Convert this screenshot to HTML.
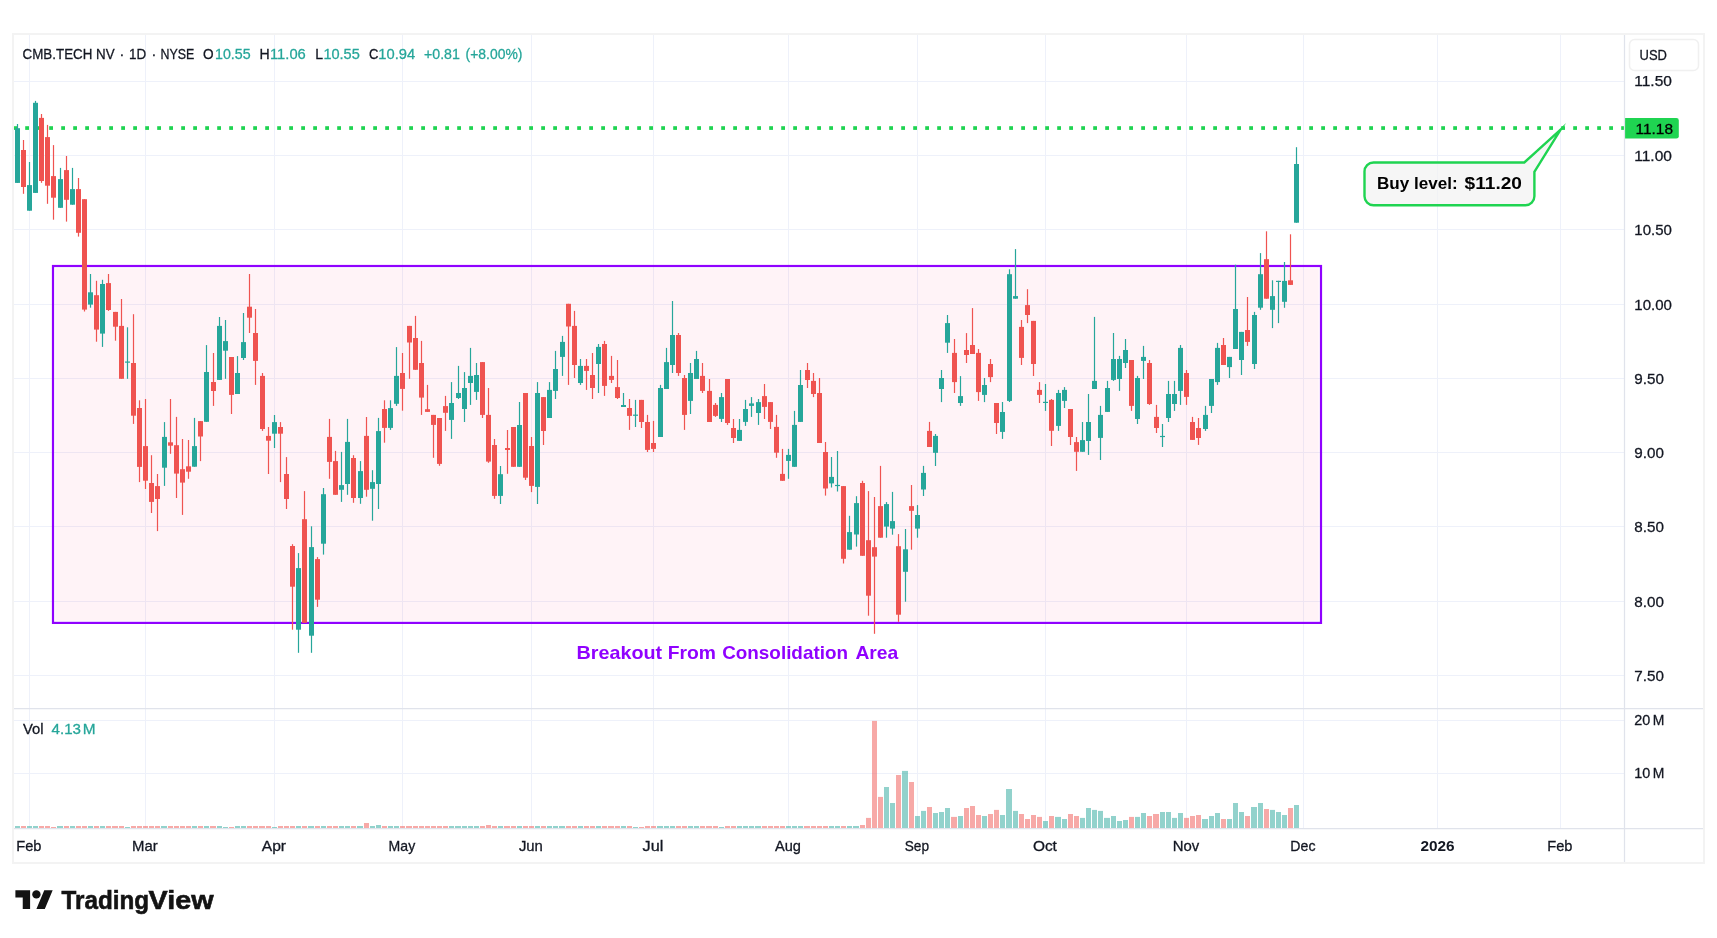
<!DOCTYPE html>
<html lang="en"><head><meta charset="utf-8"><title>CMB.TECH NV chart</title>
<style>html,body{margin:0;padding:0;background:#fff;}body{width:1717px;height:938px;overflow:hidden;}svg{display:block;}text{font-family:"Liberation Sans", Arial, Helvetica, sans-serif;}</style></head><body>
<svg width="1717" height="938" viewBox="0 0 1717 938">
<rect width="1717" height="938" fill="#fff"/>
<g opacity="0.999">
<g stroke="#eef1fa" stroke-width="1" shape-rendering="auto">
<line x1="14" x2="1624" y1="81.5" y2="81.5"/>
<line x1="14" x2="1624" y1="155.5" y2="155.5"/>
<line x1="14" x2="1624" y1="229.5" y2="229.5"/>
<line x1="14" x2="1624" y1="304.5" y2="304.5"/>
<line x1="14" x2="1624" y1="378.5" y2="378.5"/>
<line x1="14" x2="1624" y1="452.5" y2="452.5"/>
<line x1="14" x2="1624" y1="526.5" y2="526.5"/>
<line x1="14" x2="1624" y1="601.5" y2="601.5"/>
<line x1="14" x2="1624" y1="675.5" y2="675.5"/>
<line x1="14" x2="1624" y1="720.5" y2="720.5"/>
<line x1="14" x2="1624" y1="773.5" y2="773.5"/>
<line x1="29.5" x2="29.5" y1="35" y2="828"/>
<line x1="145.5" x2="145.5" y1="35" y2="828"/>
<line x1="274.5" x2="274.5" y1="35" y2="828"/>
<line x1="402.5" x2="402.5" y1="35" y2="828"/>
<line x1="531.5" x2="531.5" y1="35" y2="828"/>
<line x1="653.5" x2="653.5" y1="35" y2="828"/>
<line x1="788.5" x2="788.5" y1="35" y2="828"/>
<line x1="917.5" x2="917.5" y1="35" y2="828"/>
<line x1="1045.5" x2="1045.5" y1="35" y2="828"/>
<line x1="1186.5" x2="1186.5" y1="35" y2="828"/>
<line x1="1303.5" x2="1303.5" y1="35" y2="828"/>
<line x1="1437.5" x2="1437.5" y1="35" y2="828"/>
<line x1="1560.5" x2="1560.5" y1="35" y2="828"/>
</g>
<rect x="55.3" y="268.2" width="1263.4" height="352.5" fill="rgba(255,20,100,0.05)"/>
<rect x="53" y="266" width="1268.0" height="356.9" fill="none" stroke="#9000ff" stroke-width="2.2"/>
<g fill="#1fd451">
<rect x="13.2" y="126.2" width="3.8" height="3.7"/>
<rect x="25.2" y="126.2" width="3.8" height="3.7"/>
<rect x="37.2" y="126.2" width="3.8" height="3.7"/>
<rect x="49.2" y="126.2" width="3.8" height="3.7"/>
<rect x="61.2" y="126.2" width="3.8" height="3.7"/>
<rect x="73.2" y="126.2" width="3.8" height="3.7"/>
<rect x="85.2" y="126.2" width="3.8" height="3.7"/>
<rect x="97.2" y="126.2" width="3.8" height="3.7"/>
<rect x="109.2" y="126.2" width="3.8" height="3.7"/>
<rect x="121.2" y="126.2" width="3.8" height="3.7"/>
<rect x="133.2" y="126.2" width="3.8" height="3.7"/>
<rect x="145.2" y="126.2" width="3.8" height="3.7"/>
<rect x="157.2" y="126.2" width="3.8" height="3.7"/>
<rect x="169.2" y="126.2" width="3.8" height="3.7"/>
<rect x="181.2" y="126.2" width="3.8" height="3.7"/>
<rect x="193.2" y="126.2" width="3.8" height="3.7"/>
<rect x="205.2" y="126.2" width="3.8" height="3.7"/>
<rect x="217.2" y="126.2" width="3.8" height="3.7"/>
<rect x="229.2" y="126.2" width="3.8" height="3.7"/>
<rect x="241.2" y="126.2" width="3.8" height="3.7"/>
<rect x="253.2" y="126.2" width="3.8" height="3.7"/>
<rect x="265.2" y="126.2" width="3.8" height="3.7"/>
<rect x="277.2" y="126.2" width="3.8" height="3.7"/>
<rect x="289.2" y="126.2" width="3.8" height="3.7"/>
<rect x="301.2" y="126.2" width="3.8" height="3.7"/>
<rect x="313.2" y="126.2" width="3.8" height="3.7"/>
<rect x="325.2" y="126.2" width="3.8" height="3.7"/>
<rect x="337.2" y="126.2" width="3.8" height="3.7"/>
<rect x="349.2" y="126.2" width="3.8" height="3.7"/>
<rect x="361.2" y="126.2" width="3.8" height="3.7"/>
<rect x="373.2" y="126.2" width="3.8" height="3.7"/>
<rect x="385.2" y="126.2" width="3.8" height="3.7"/>
<rect x="397.2" y="126.2" width="3.8" height="3.7"/>
<rect x="409.2" y="126.2" width="3.8" height="3.7"/>
<rect x="421.2" y="126.2" width="3.8" height="3.7"/>
<rect x="433.2" y="126.2" width="3.8" height="3.7"/>
<rect x="445.2" y="126.2" width="3.8" height="3.7"/>
<rect x="457.2" y="126.2" width="3.8" height="3.7"/>
<rect x="469.2" y="126.2" width="3.8" height="3.7"/>
<rect x="481.2" y="126.2" width="3.8" height="3.7"/>
<rect x="493.2" y="126.2" width="3.8" height="3.7"/>
<rect x="505.2" y="126.2" width="3.8" height="3.7"/>
<rect x="517.2" y="126.2" width="3.8" height="3.7"/>
<rect x="529.2" y="126.2" width="3.8" height="3.7"/>
<rect x="541.2" y="126.2" width="3.8" height="3.7"/>
<rect x="553.2" y="126.2" width="3.8" height="3.7"/>
<rect x="565.2" y="126.2" width="3.8" height="3.7"/>
<rect x="577.2" y="126.2" width="3.8" height="3.7"/>
<rect x="589.2" y="126.2" width="3.8" height="3.7"/>
<rect x="601.2" y="126.2" width="3.8" height="3.7"/>
<rect x="613.2" y="126.2" width="3.8" height="3.7"/>
<rect x="625.2" y="126.2" width="3.8" height="3.7"/>
<rect x="637.2" y="126.2" width="3.8" height="3.7"/>
<rect x="649.2" y="126.2" width="3.8" height="3.7"/>
<rect x="661.2" y="126.2" width="3.8" height="3.7"/>
<rect x="673.2" y="126.2" width="3.8" height="3.7"/>
<rect x="685.2" y="126.2" width="3.8" height="3.7"/>
<rect x="697.2" y="126.2" width="3.8" height="3.7"/>
<rect x="709.2" y="126.2" width="3.8" height="3.7"/>
<rect x="721.2" y="126.2" width="3.8" height="3.7"/>
<rect x="733.2" y="126.2" width="3.8" height="3.7"/>
<rect x="745.2" y="126.2" width="3.8" height="3.7"/>
<rect x="757.2" y="126.2" width="3.8" height="3.7"/>
<rect x="769.2" y="126.2" width="3.8" height="3.7"/>
<rect x="781.2" y="126.2" width="3.8" height="3.7"/>
<rect x="793.2" y="126.2" width="3.8" height="3.7"/>
<rect x="805.2" y="126.2" width="3.8" height="3.7"/>
<rect x="817.2" y="126.2" width="3.8" height="3.7"/>
<rect x="829.2" y="126.2" width="3.8" height="3.7"/>
<rect x="841.2" y="126.2" width="3.8" height="3.7"/>
<rect x="853.2" y="126.2" width="3.8" height="3.7"/>
<rect x="865.2" y="126.2" width="3.8" height="3.7"/>
<rect x="877.2" y="126.2" width="3.8" height="3.7"/>
<rect x="889.2" y="126.2" width="3.8" height="3.7"/>
<rect x="901.2" y="126.2" width="3.8" height="3.7"/>
<rect x="913.2" y="126.2" width="3.8" height="3.7"/>
<rect x="925.2" y="126.2" width="3.8" height="3.7"/>
<rect x="937.2" y="126.2" width="3.8" height="3.7"/>
<rect x="949.2" y="126.2" width="3.8" height="3.7"/>
<rect x="961.2" y="126.2" width="3.8" height="3.7"/>
<rect x="973.2" y="126.2" width="3.8" height="3.7"/>
<rect x="985.2" y="126.2" width="3.8" height="3.7"/>
<rect x="997.2" y="126.2" width="3.8" height="3.7"/>
<rect x="1009.2" y="126.2" width="3.8" height="3.7"/>
<rect x="1021.2" y="126.2" width="3.8" height="3.7"/>
<rect x="1033.2" y="126.2" width="3.8" height="3.7"/>
<rect x="1045.2" y="126.2" width="3.8" height="3.7"/>
<rect x="1057.2" y="126.2" width="3.8" height="3.7"/>
<rect x="1069.2" y="126.2" width="3.8" height="3.7"/>
<rect x="1081.2" y="126.2" width="3.8" height="3.7"/>
<rect x="1093.2" y="126.2" width="3.8" height="3.7"/>
<rect x="1105.2" y="126.2" width="3.8" height="3.7"/>
<rect x="1117.2" y="126.2" width="3.8" height="3.7"/>
<rect x="1129.2" y="126.2" width="3.8" height="3.7"/>
<rect x="1141.2" y="126.2" width="3.8" height="3.7"/>
<rect x="1153.2" y="126.2" width="3.8" height="3.7"/>
<rect x="1165.2" y="126.2" width="3.8" height="3.7"/>
<rect x="1177.2" y="126.2" width="3.8" height="3.7"/>
<rect x="1189.2" y="126.2" width="3.8" height="3.7"/>
<rect x="1201.2" y="126.2" width="3.8" height="3.7"/>
<rect x="1213.2" y="126.2" width="3.8" height="3.7"/>
<rect x="1225.2" y="126.2" width="3.8" height="3.7"/>
<rect x="1237.2" y="126.2" width="3.8" height="3.7"/>
<rect x="1249.2" y="126.2" width="3.8" height="3.7"/>
<rect x="1261.2" y="126.2" width="3.8" height="3.7"/>
<rect x="1273.2" y="126.2" width="3.8" height="3.7"/>
<rect x="1285.2" y="126.2" width="3.8" height="3.7"/>
<rect x="1297.2" y="126.2" width="3.8" height="3.7"/>
<rect x="1309.2" y="126.2" width="3.8" height="3.7"/>
<rect x="1321.2" y="126.2" width="3.8" height="3.7"/>
<rect x="1333.2" y="126.2" width="3.8" height="3.7"/>
<rect x="1345.2" y="126.2" width="3.8" height="3.7"/>
<rect x="1357.2" y="126.2" width="3.8" height="3.7"/>
<rect x="1369.2" y="126.2" width="3.8" height="3.7"/>
<rect x="1381.2" y="126.2" width="3.8" height="3.7"/>
<rect x="1393.2" y="126.2" width="3.8" height="3.7"/>
<rect x="1405.2" y="126.2" width="3.8" height="3.7"/>
<rect x="1417.2" y="126.2" width="3.8" height="3.7"/>
<rect x="1429.2" y="126.2" width="3.8" height="3.7"/>
<rect x="1441.2" y="126.2" width="3.8" height="3.7"/>
<rect x="1453.2" y="126.2" width="3.8" height="3.7"/>
<rect x="1465.2" y="126.2" width="3.8" height="3.7"/>
<rect x="1477.2" y="126.2" width="3.8" height="3.7"/>
<rect x="1489.2" y="126.2" width="3.8" height="3.7"/>
<rect x="1501.2" y="126.2" width="3.8" height="3.7"/>
<rect x="1513.2" y="126.2" width="3.8" height="3.7"/>
<rect x="1525.2" y="126.2" width="3.8" height="3.7"/>
<rect x="1537.2" y="126.2" width="3.8" height="3.7"/>
<rect x="1549.2" y="126.2" width="3.8" height="3.7"/>
<rect x="1561.2" y="126.2" width="3.8" height="3.7"/>
<rect x="1573.2" y="126.2" width="3.8" height="3.7"/>
<rect x="1585.2" y="126.2" width="3.8" height="3.7"/>
<rect x="1597.2" y="126.2" width="3.8" height="3.7"/>
<rect x="1609.2" y="126.2" width="3.8" height="3.7"/>
<rect x="1621.2" y="126.2" width="2.8" height="3.7"/>
</g>
<g>
<rect x="15.0" y="826.0" width="5.0" height="2.2" fill="rgba(38,166,154,0.5)"/>
<rect x="21.0" y="826.0" width="5.0" height="2.2" fill="rgba(239,83,80,0.5)"/>
<rect x="27.0" y="826.0" width="5.0" height="2.2" fill="rgba(38,166,154,0.5)"/>
<rect x="33.0" y="826.0" width="5.0" height="2.2" fill="rgba(38,166,154,0.5)"/>
<rect x="39.0" y="826.0" width="5.0" height="2.2" fill="rgba(239,83,80,0.5)"/>
<rect x="45.0" y="826.0" width="5.0" height="2.2" fill="rgba(239,83,80,0.5)"/>
<rect x="51.0" y="827.0" width="5.0" height="1.2" fill="rgba(239,83,80,0.5)"/>
<rect x="57.0" y="826.0" width="6.0" height="2.2" fill="rgba(38,166,154,0.5)"/>
<rect x="64.0" y="826.0" width="5.0" height="2.2" fill="rgba(239,83,80,0.5)"/>
<rect x="70.0" y="826.0" width="5.0" height="2.2" fill="rgba(38,166,154,0.5)"/>
<rect x="76.0" y="826.0" width="5.0" height="2.2" fill="rgba(239,83,80,0.5)"/>
<rect x="82.0" y="826.0" width="5.0" height="2.2" fill="rgba(239,83,80,0.5)"/>
<rect x="88.0" y="826.0" width="5.0" height="2.2" fill="rgba(38,166,154,0.5)"/>
<rect x="94.0" y="826.0" width="5.0" height="2.2" fill="rgba(239,83,80,0.5)"/>
<rect x="100.0" y="826.0" width="5.0" height="2.2" fill="rgba(38,166,154,0.5)"/>
<rect x="106.0" y="826.0" width="5.0" height="2.2" fill="rgba(239,83,80,0.5)"/>
<rect x="112.0" y="826.0" width="6.0" height="2.2" fill="rgba(239,83,80,0.5)"/>
<rect x="119.0" y="826.0" width="5.0" height="2.2" fill="rgba(239,83,80,0.5)"/>
<rect x="125.0" y="827.0" width="5.0" height="1.2" fill="rgba(38,166,154,0.5)"/>
<rect x="131.0" y="826.0" width="5.0" height="2.2" fill="rgba(239,83,80,0.5)"/>
<rect x="137.0" y="826.0" width="5.0" height="2.2" fill="rgba(239,83,80,0.5)"/>
<rect x="143.0" y="826.0" width="5.0" height="2.2" fill="rgba(239,83,80,0.5)"/>
<rect x="149.0" y="826.0" width="5.0" height="2.2" fill="rgba(239,83,80,0.5)"/>
<rect x="155.0" y="826.0" width="5.0" height="2.2" fill="rgba(239,83,80,0.5)"/>
<rect x="161.0" y="826.0" width="6.0" height="2.2" fill="rgba(38,166,154,0.5)"/>
<rect x="168.0" y="826.0" width="5.0" height="2.2" fill="rgba(239,83,80,0.5)"/>
<rect x="174.0" y="826.0" width="5.0" height="2.2" fill="rgba(239,83,80,0.5)"/>
<rect x="180.0" y="826.0" width="5.0" height="2.2" fill="rgba(239,83,80,0.5)"/>
<rect x="186.0" y="826.0" width="5.0" height="2.2" fill="rgba(239,83,80,0.5)"/>
<rect x="192.0" y="826.0" width="5.0" height="2.2" fill="rgba(38,166,154,0.5)"/>
<rect x="198.0" y="826.0" width="5.0" height="2.2" fill="rgba(239,83,80,0.5)"/>
<rect x="204.0" y="826.0" width="5.0" height="2.2" fill="rgba(38,166,154,0.5)"/>
<rect x="210.0" y="826.0" width="6.0" height="2.2" fill="rgba(239,83,80,0.5)"/>
<rect x="217.0" y="826.0" width="5.0" height="2.2" fill="rgba(38,166,154,0.5)"/>
<rect x="223.0" y="827.0" width="5.0" height="1.2" fill="rgba(38,166,154,0.5)"/>
<rect x="229.0" y="827.0" width="5.0" height="1.2" fill="rgba(239,83,80,0.5)"/>
<rect x="235.0" y="826.0" width="5.0" height="2.2" fill="rgba(38,166,154,0.5)"/>
<rect x="241.0" y="826.0" width="5.0" height="2.2" fill="rgba(38,166,154,0.5)"/>
<rect x="247.0" y="826.0" width="5.0" height="2.2" fill="rgba(239,83,80,0.5)"/>
<rect x="253.0" y="826.0" width="5.0" height="2.2" fill="rgba(239,83,80,0.5)"/>
<rect x="259.0" y="826.0" width="6.0" height="2.2" fill="rgba(239,83,80,0.5)"/>
<rect x="266.0" y="826.0" width="5.0" height="2.2" fill="rgba(239,83,80,0.5)"/>
<rect x="272.0" y="827.0" width="5.0" height="1.2" fill="rgba(38,166,154,0.5)"/>
<rect x="278.0" y="826.0" width="5.0" height="2.2" fill="rgba(239,83,80,0.5)"/>
<rect x="284.0" y="826.0" width="5.0" height="2.2" fill="rgba(239,83,80,0.5)"/>
<rect x="290.0" y="826.0" width="5.0" height="2.2" fill="rgba(239,83,80,0.5)"/>
<rect x="296.0" y="826.0" width="5.0" height="2.2" fill="rgba(38,166,154,0.5)"/>
<rect x="302.0" y="826.0" width="5.0" height="2.2" fill="rgba(239,83,80,0.5)"/>
<rect x="308.0" y="826.0" width="6.0" height="2.2" fill="rgba(38,166,154,0.5)"/>
<rect x="315.0" y="826.0" width="5.0" height="2.2" fill="rgba(239,83,80,0.5)"/>
<rect x="321.0" y="826.0" width="5.0" height="2.2" fill="rgba(38,166,154,0.5)"/>
<rect x="327.0" y="826.0" width="5.0" height="2.2" fill="rgba(239,83,80,0.5)"/>
<rect x="333.0" y="826.0" width="5.0" height="2.2" fill="rgba(239,83,80,0.5)"/>
<rect x="339.0" y="826.0" width="5.0" height="2.2" fill="rgba(38,166,154,0.5)"/>
<rect x="345.0" y="826.0" width="5.0" height="2.2" fill="rgba(38,166,154,0.5)"/>
<rect x="351.0" y="826.0" width="5.0" height="2.2" fill="rgba(239,83,80,0.5)"/>
<rect x="357.0" y="826.0" width="6.0" height="2.2" fill="rgba(38,166,154,0.5)"/>
<rect x="364.0" y="823.0" width="5.0" height="5.2" fill="rgba(239,83,80,0.5)"/>
<rect x="370.0" y="826.0" width="5.0" height="2.2" fill="rgba(38,166,154,0.5)"/>
<rect x="376.0" y="825.0" width="5.0" height="3.2" fill="rgba(38,166,154,0.5)"/>
<rect x="382.0" y="826.0" width="5.0" height="2.2" fill="rgba(239,83,80,0.5)"/>
<rect x="388.0" y="826.0" width="5.0" height="2.2" fill="rgba(38,166,154,0.5)"/>
<rect x="394.0" y="826.0" width="5.0" height="2.2" fill="rgba(38,166,154,0.5)"/>
<rect x="400.0" y="826.0" width="5.0" height="2.2" fill="rgba(239,83,80,0.5)"/>
<rect x="406.0" y="826.0" width="6.0" height="2.2" fill="rgba(239,83,80,0.5)"/>
<rect x="413.0" y="826.0" width="5.0" height="2.2" fill="rgba(239,83,80,0.5)"/>
<rect x="419.0" y="826.0" width="5.0" height="2.2" fill="rgba(239,83,80,0.5)"/>
<rect x="425.0" y="826.0" width="5.0" height="2.2" fill="rgba(239,83,80,0.5)"/>
<rect x="431.0" y="826.0" width="5.0" height="2.2" fill="rgba(239,83,80,0.5)"/>
<rect x="437.0" y="826.0" width="5.0" height="2.2" fill="rgba(239,83,80,0.5)"/>
<rect x="443.0" y="826.0" width="5.0" height="2.2" fill="rgba(239,83,80,0.5)"/>
<rect x="449.0" y="826.0" width="5.0" height="2.2" fill="rgba(38,166,154,0.5)"/>
<rect x="455.0" y="826.0" width="6.0" height="2.2" fill="rgba(38,166,154,0.5)"/>
<rect x="462.0" y="826.0" width="5.0" height="2.2" fill="rgba(38,166,154,0.5)"/>
<rect x="468.0" y="826.0" width="5.0" height="2.2" fill="rgba(38,166,154,0.5)"/>
<rect x="474.0" y="826.0" width="5.0" height="2.2" fill="rgba(38,166,154,0.5)"/>
<rect x="480.0" y="826.0" width="5.0" height="2.2" fill="rgba(239,83,80,0.5)"/>
<rect x="486.0" y="825.0" width="5.0" height="3.2" fill="rgba(239,83,80,0.5)"/>
<rect x="492.0" y="826.0" width="5.0" height="2.2" fill="rgba(239,83,80,0.5)"/>
<rect x="498.0" y="826.0" width="5.0" height="2.2" fill="rgba(38,166,154,0.5)"/>
<rect x="504.0" y="826.0" width="6.0" height="2.2" fill="rgba(239,83,80,0.5)"/>
<rect x="511.0" y="826.0" width="5.0" height="2.2" fill="rgba(239,83,80,0.5)"/>
<rect x="517.0" y="826.0" width="5.0" height="2.2" fill="rgba(38,166,154,0.5)"/>
<rect x="523.0" y="826.0" width="5.0" height="2.2" fill="rgba(239,83,80,0.5)"/>
<rect x="529.0" y="826.0" width="5.0" height="2.2" fill="rgba(239,83,80,0.5)"/>
<rect x="535.0" y="826.0" width="5.0" height="2.2" fill="rgba(38,166,154,0.5)"/>
<rect x="541.0" y="826.0" width="5.0" height="2.2" fill="rgba(239,83,80,0.5)"/>
<rect x="547.0" y="826.0" width="5.0" height="2.2" fill="rgba(38,166,154,0.5)"/>
<rect x="553.0" y="826.0" width="5.0" height="2.2" fill="rgba(38,166,154,0.5)"/>
<rect x="559.0" y="826.0" width="6.0" height="2.2" fill="rgba(38,166,154,0.5)"/>
<rect x="566.0" y="826.0" width="5.0" height="2.2" fill="rgba(239,83,80,0.5)"/>
<rect x="572.0" y="826.0" width="5.0" height="2.2" fill="rgba(239,83,80,0.5)"/>
<rect x="578.0" y="826.0" width="5.0" height="2.2" fill="rgba(38,166,154,0.5)"/>
<rect x="584.0" y="826.0" width="5.0" height="2.2" fill="rgba(239,83,80,0.5)"/>
<rect x="590.0" y="826.0" width="5.0" height="2.2" fill="rgba(239,83,80,0.5)"/>
<rect x="596.0" y="826.0" width="5.0" height="2.2" fill="rgba(38,166,154,0.5)"/>
<rect x="602.0" y="826.0" width="5.0" height="2.2" fill="rgba(239,83,80,0.5)"/>
<rect x="608.0" y="826.0" width="6.0" height="2.2" fill="rgba(239,83,80,0.5)"/>
<rect x="615.0" y="826.0" width="5.0" height="2.2" fill="rgba(239,83,80,0.5)"/>
<rect x="621.0" y="826.0" width="5.0" height="2.2" fill="rgba(38,166,154,0.5)"/>
<rect x="627.0" y="826.0" width="5.0" height="2.2" fill="rgba(239,83,80,0.5)"/>
<rect x="633.0" y="827.0" width="5.0" height="1.2" fill="rgba(38,166,154,0.5)"/>
<rect x="639.0" y="827.0" width="5.0" height="1.2" fill="rgba(239,83,80,0.5)"/>
<rect x="645.0" y="826.0" width="5.0" height="2.2" fill="rgba(239,83,80,0.5)"/>
<rect x="651.0" y="826.0" width="5.0" height="2.2" fill="rgba(239,83,80,0.5)"/>
<rect x="657.0" y="826.0" width="6.0" height="2.2" fill="rgba(38,166,154,0.5)"/>
<rect x="664.0" y="826.0" width="5.0" height="2.2" fill="rgba(38,166,154,0.5)"/>
<rect x="670.0" y="826.0" width="5.0" height="2.2" fill="rgba(38,166,154,0.5)"/>
<rect x="676.0" y="826.0" width="5.0" height="2.2" fill="rgba(239,83,80,0.5)"/>
<rect x="682.0" y="826.0" width="5.0" height="2.2" fill="rgba(239,83,80,0.5)"/>
<rect x="688.0" y="826.0" width="5.0" height="2.2" fill="rgba(38,166,154,0.5)"/>
<rect x="694.0" y="826.0" width="5.0" height="2.2" fill="rgba(38,166,154,0.5)"/>
<rect x="700.0" y="826.0" width="5.0" height="2.2" fill="rgba(239,83,80,0.5)"/>
<rect x="706.0" y="826.0" width="6.0" height="2.2" fill="rgba(239,83,80,0.5)"/>
<rect x="713.0" y="826.0" width="5.0" height="2.2" fill="rgba(239,83,80,0.5)"/>
<rect x="719.0" y="827.0" width="5.0" height="1.2" fill="rgba(38,166,154,0.5)"/>
<rect x="725.0" y="826.0" width="5.0" height="2.2" fill="rgba(239,83,80,0.5)"/>
<rect x="731.0" y="826.0" width="5.0" height="2.2" fill="rgba(239,83,80,0.5)"/>
<rect x="737.0" y="826.0" width="5.0" height="2.2" fill="rgba(38,166,154,0.5)"/>
<rect x="743.0" y="826.0" width="5.0" height="2.2" fill="rgba(38,166,154,0.5)"/>
<rect x="749.0" y="826.0" width="5.0" height="2.2" fill="rgba(38,166,154,0.5)"/>
<rect x="755.0" y="826.0" width="6.0" height="2.2" fill="rgba(38,166,154,0.5)"/>
<rect x="762.0" y="826.0" width="5.0" height="2.2" fill="rgba(239,83,80,0.5)"/>
<rect x="768.0" y="826.0" width="5.0" height="2.2" fill="rgba(239,83,80,0.5)"/>
<rect x="774.0" y="826.0" width="5.0" height="2.2" fill="rgba(239,83,80,0.5)"/>
<rect x="780.0" y="826.0" width="5.0" height="2.2" fill="rgba(239,83,80,0.5)"/>
<rect x="786.0" y="826.0" width="5.0" height="2.2" fill="rgba(38,166,154,0.5)"/>
<rect x="792.0" y="826.0" width="5.0" height="2.2" fill="rgba(38,166,154,0.5)"/>
<rect x="798.0" y="826.0" width="5.0" height="2.2" fill="rgba(38,166,154,0.5)"/>
<rect x="804.0" y="826.0" width="6.0" height="2.2" fill="rgba(239,83,80,0.5)"/>
<rect x="811.0" y="826.0" width="5.0" height="2.2" fill="rgba(239,83,80,0.5)"/>
<rect x="817.0" y="826.0" width="5.0" height="2.2" fill="rgba(239,83,80,0.5)"/>
<rect x="823.0" y="826.0" width="5.0" height="2.2" fill="rgba(239,83,80,0.5)"/>
<rect x="829.0" y="826.0" width="5.0" height="2.2" fill="rgba(38,166,154,0.5)"/>
<rect x="835.0" y="826.0" width="5.0" height="2.2" fill="rgba(38,166,154,0.5)"/>
<rect x="841.0" y="826.0" width="5.0" height="2.2" fill="rgba(239,83,80,0.5)"/>
<rect x="847.0" y="826.0" width="5.0" height="2.2" fill="rgba(38,166,154,0.5)"/>
<rect x="853.0" y="826.0" width="6.0" height="2.2" fill="rgba(38,166,154,0.5)"/>
<rect x="860.0" y="825.0" width="5.0" height="3.2" fill="rgba(239,83,80,0.5)"/>
<rect x="866.0" y="817.9" width="5.0" height="10.3" fill="rgba(239,83,80,0.5)"/>
<rect x="872.0" y="720.9" width="5.0" height="107.3" fill="rgba(239,83,80,0.5)"/>
<rect x="878.0" y="796.9" width="5.0" height="31.3" fill="rgba(239,83,80,0.5)"/>
<rect x="884.0" y="787.0" width="5.0" height="41.2" fill="rgba(38,166,154,0.5)"/>
<rect x="890.0" y="803.0" width="5.0" height="25.2" fill="rgba(38,166,154,0.5)"/>
<rect x="896.0" y="775.0" width="5.0" height="53.2" fill="rgba(239,83,80,0.5)"/>
<rect x="902.0" y="770.9" width="6.0" height="57.3" fill="rgba(38,166,154,0.5)"/>
<rect x="909.0" y="782.0" width="5.0" height="46.2" fill="rgba(239,83,80,0.5)"/>
<rect x="915.0" y="816.0" width="5.0" height="12.2" fill="rgba(38,166,154,0.5)"/>
<rect x="921.0" y="810.9" width="5.0" height="17.3" fill="rgba(38,166,154,0.5)"/>
<rect x="927.0" y="807.0" width="5.0" height="21.2" fill="rgba(239,83,80,0.5)"/>
<rect x="933.0" y="813.0" width="5.0" height="15.2" fill="rgba(38,166,154,0.5)"/>
<rect x="939.0" y="812.0" width="5.0" height="16.2" fill="rgba(38,166,154,0.5)"/>
<rect x="945.0" y="808.0" width="5.0" height="20.2" fill="rgba(38,166,154,0.5)"/>
<rect x="951.0" y="816.9" width="6.0" height="11.3" fill="rgba(239,83,80,0.5)"/>
<rect x="958.0" y="816.0" width="5.0" height="12.2" fill="rgba(38,166,154,0.5)"/>
<rect x="964.0" y="808.0" width="5.0" height="20.2" fill="rgba(239,83,80,0.5)"/>
<rect x="970.0" y="806.0" width="5.0" height="22.2" fill="rgba(239,83,80,0.5)"/>
<rect x="976.0" y="815.0" width="5.0" height="13.2" fill="rgba(239,83,80,0.5)"/>
<rect x="982.0" y="816.0" width="5.0" height="12.2" fill="rgba(38,166,154,0.5)"/>
<rect x="988.0" y="814.0" width="5.0" height="14.2" fill="rgba(239,83,80,0.5)"/>
<rect x="994.0" y="809.9" width="5.0" height="18.3" fill="rgba(239,83,80,0.5)"/>
<rect x="1000.0" y="815.0" width="5.0" height="13.2" fill="rgba(38,166,154,0.5)"/>
<rect x="1006.0" y="789.0" width="6.0" height="39.2" fill="rgba(38,166,154,0.5)"/>
<rect x="1013.0" y="810.9" width="5.0" height="17.3" fill="rgba(38,166,154,0.5)"/>
<rect x="1019.0" y="814.0" width="5.0" height="14.2" fill="rgba(239,83,80,0.5)"/>
<rect x="1025.0" y="819.0" width="5.0" height="9.2" fill="rgba(239,83,80,0.5)"/>
<rect x="1031.0" y="815.0" width="5.0" height="13.2" fill="rgba(239,83,80,0.5)"/>
<rect x="1037.0" y="816.9" width="5.0" height="11.3" fill="rgba(239,83,80,0.5)"/>
<rect x="1043.0" y="821.0" width="5.0" height="7.2" fill="rgba(38,166,154,0.5)"/>
<rect x="1049.0" y="816.0" width="5.0" height="12.2" fill="rgba(239,83,80,0.5)"/>
<rect x="1055.0" y="816.9" width="6.0" height="11.3" fill="rgba(38,166,154,0.5)"/>
<rect x="1062.0" y="819.0" width="5.0" height="9.2" fill="rgba(38,166,154,0.5)"/>
<rect x="1068.0" y="814.0" width="5.0" height="14.2" fill="rgba(239,83,80,0.5)"/>
<rect x="1074.0" y="816.0" width="5.0" height="12.2" fill="rgba(239,83,80,0.5)"/>
<rect x="1080.0" y="817.9" width="5.0" height="10.3" fill="rgba(38,166,154,0.5)"/>
<rect x="1086.0" y="808.0" width="5.0" height="20.2" fill="rgba(38,166,154,0.5)"/>
<rect x="1092.0" y="809.9" width="5.0" height="18.3" fill="rgba(38,166,154,0.5)"/>
<rect x="1098.0" y="810.9" width="5.0" height="17.3" fill="rgba(38,166,154,0.5)"/>
<rect x="1104.0" y="817.9" width="6.0" height="10.3" fill="rgba(38,166,154,0.5)"/>
<rect x="1111.0" y="816.0" width="5.0" height="12.2" fill="rgba(38,166,154,0.5)"/>
<rect x="1117.0" y="821.0" width="5.0" height="7.2" fill="rgba(38,166,154,0.5)"/>
<rect x="1123.0" y="820.0" width="5.0" height="8.2" fill="rgba(38,166,154,0.5)"/>
<rect x="1129.0" y="816.9" width="5.0" height="11.3" fill="rgba(239,83,80,0.5)"/>
<rect x="1135.0" y="816.9" width="5.0" height="11.3" fill="rgba(38,166,154,0.5)"/>
<rect x="1141.0" y="813.0" width="5.0" height="15.2" fill="rgba(38,166,154,0.5)"/>
<rect x="1147.0" y="816.0" width="5.0" height="12.2" fill="rgba(239,83,80,0.5)"/>
<rect x="1153.0" y="814.0" width="6.0" height="14.2" fill="rgba(239,83,80,0.5)"/>
<rect x="1160.0" y="812.0" width="5.0" height="16.2" fill="rgba(38,166,154,0.5)"/>
<rect x="1166.0" y="812.0" width="5.0" height="16.2" fill="rgba(38,166,154,0.5)"/>
<rect x="1172.0" y="817.9" width="5.0" height="10.3" fill="rgba(38,166,154,0.5)"/>
<rect x="1178.0" y="813.0" width="5.0" height="15.2" fill="rgba(38,166,154,0.5)"/>
<rect x="1184.0" y="817.9" width="5.0" height="10.3" fill="rgba(239,83,80,0.5)"/>
<rect x="1190.0" y="816.0" width="5.0" height="12.2" fill="rgba(239,83,80,0.5)"/>
<rect x="1196.0" y="815.0" width="5.0" height="13.2" fill="rgba(239,83,80,0.5)"/>
<rect x="1202.0" y="819.0" width="6.0" height="9.2" fill="rgba(38,166,154,0.5)"/>
<rect x="1209.0" y="816.0" width="5.0" height="12.2" fill="rgba(38,166,154,0.5)"/>
<rect x="1215.0" y="813.0" width="5.0" height="15.2" fill="rgba(38,166,154,0.5)"/>
<rect x="1221.0" y="819.0" width="5.0" height="9.2" fill="rgba(239,83,80,0.5)"/>
<rect x="1227.0" y="819.0" width="5.0" height="9.2" fill="rgba(38,166,154,0.5)"/>
<rect x="1233.0" y="803.0" width="5.0" height="25.2" fill="rgba(38,166,154,0.5)"/>
<rect x="1239.0" y="812.0" width="5.0" height="16.2" fill="rgba(38,166,154,0.5)"/>
<rect x="1245.0" y="816.0" width="5.0" height="12.2" fill="rgba(239,83,80,0.5)"/>
<rect x="1251.0" y="807.0" width="6.0" height="21.2" fill="rgba(38,166,154,0.5)"/>
<rect x="1258.0" y="803.0" width="5.0" height="25.2" fill="rgba(38,166,154,0.5)"/>
<rect x="1264.0" y="809.0" width="5.0" height="19.2" fill="rgba(239,83,80,0.5)"/>
<rect x="1270.0" y="809.9" width="5.0" height="18.3" fill="rgba(38,166,154,0.5)"/>
<rect x="1276.0" y="812.0" width="5.0" height="16.2" fill="rgba(38,166,154,0.5)"/>
<rect x="1282.0" y="815.0" width="5.0" height="13.2" fill="rgba(38,166,154,0.5)"/>
<rect x="1288.0" y="808.0" width="5.0" height="20.2" fill="rgba(239,83,80,0.5)"/>
<rect x="1294.0" y="805.0" width="5.0" height="23.2" fill="rgba(38,166,154,0.5)"/>
</g>
<g>
<rect x="16.90" y="124.0" width="1.2" height="58.9" fill="#26a69a"/>
<rect x="15.0" y="128.2" width="5.0" height="54.7" fill="#26a69a"/>
<rect x="22.90" y="140.0" width="1.2" height="53.8" fill="#ef5350"/>
<rect x="21.0" y="150.0" width="5.0" height="37.0" fill="#ef5350"/>
<rect x="28.90" y="162.0" width="1.2" height="48.7" fill="#26a69a"/>
<rect x="27.0" y="185.1" width="5.0" height="25.6" fill="#26a69a"/>
<rect x="34.90" y="100.9" width="1.2" height="92.0" fill="#26a69a"/>
<rect x="33.0" y="102.8" width="5.0" height="90.1" fill="#26a69a"/>
<rect x="40.90" y="114.0" width="1.2" height="68.8" fill="#ef5350"/>
<rect x="39.0" y="117.9" width="5.0" height="63.1" fill="#ef5350"/>
<rect x="46.90" y="124.9" width="1.2" height="78.9" fill="#ef5350"/>
<rect x="45.0" y="137.1" width="5.0" height="48.6" fill="#ef5350"/>
<rect x="52.90" y="145.1" width="1.2" height="74.6" fill="#ef5350"/>
<rect x="51.0" y="176.1" width="5.0" height="21.6" fill="#ef5350"/>
<rect x="59.90" y="167.9" width="1.2" height="39.9" fill="#26a69a"/>
<rect x="58.0" y="179.1" width="5.0" height="28.7" fill="#26a69a"/>
<rect x="65.90" y="156.0" width="1.2" height="65.6" fill="#ef5350"/>
<rect x="64.0" y="170.1" width="5.0" height="29.7" fill="#ef5350"/>
<rect x="71.90" y="167.9" width="1.2" height="36.8" fill="#26a69a"/>
<rect x="70.0" y="189.1" width="5.0" height="15.6" fill="#26a69a"/>
<rect x="77.90" y="178.0" width="1.2" height="58.6" fill="#ef5350"/>
<rect x="76.0" y="189.1" width="5.0" height="43.7" fill="#ef5350"/>
<rect x="83.90" y="199.2" width="1.2" height="112.3" fill="#ef5350"/>
<rect x="82.0" y="199.2" width="5.0" height="110.4" fill="#ef5350"/>
<rect x="89.90" y="274.0" width="1.2" height="33.7" fill="#26a69a"/>
<rect x="88.0" y="292.3" width="5.0" height="12.3" fill="#26a69a"/>
<rect x="95.90" y="280.8" width="1.2" height="60.9" fill="#ef5350"/>
<rect x="94.0" y="295.2" width="5.0" height="34.4" fill="#ef5350"/>
<rect x="101.90" y="279.8" width="1.2" height="67.1" fill="#26a69a"/>
<rect x="100.0" y="284.0" width="5.0" height="49.6" fill="#26a69a"/>
<rect x="107.90" y="274.0" width="1.2" height="36.9" fill="#ef5350"/>
<rect x="106.0" y="283.1" width="5.0" height="26.9" fill="#ef5350"/>
<rect x="114.90" y="311.9" width="1.2" height="28.8" fill="#ef5350"/>
<rect x="113.0" y="311.9" width="5.0" height="14.8" fill="#ef5350"/>
<rect x="120.90" y="299.0" width="1.2" height="79.8" fill="#ef5350"/>
<rect x="119.0" y="325.9" width="5.0" height="52.9" fill="#ef5350"/>
<rect x="126.90" y="327.3" width="1.2" height="51.5" fill="#26a69a"/>
<rect x="125.0" y="361.5" width="5.0" height="1.2" fill="#26a69a"/>
<rect x="132.90" y="314.2" width="1.2" height="109.7" fill="#ef5350"/>
<rect x="131.0" y="363.0" width="5.0" height="52.7" fill="#ef5350"/>
<rect x="138.90" y="400.3" width="1.2" height="81.8" fill="#ef5350"/>
<rect x="137.0" y="408.0" width="5.0" height="58.9" fill="#ef5350"/>
<rect x="144.90" y="399.0" width="1.2" height="90.0" fill="#ef5350"/>
<rect x="143.0" y="446.1" width="5.0" height="34.6" fill="#ef5350"/>
<rect x="150.90" y="455.2" width="1.2" height="57.8" fill="#ef5350"/>
<rect x="149.0" y="483.0" width="5.0" height="18.9" fill="#ef5350"/>
<rect x="156.90" y="474.0" width="1.2" height="57.1" fill="#ef5350"/>
<rect x="155.0" y="486.1" width="5.0" height="12.9" fill="#ef5350"/>
<rect x="163.90" y="422.1" width="1.2" height="63.8" fill="#26a69a"/>
<rect x="162.0" y="436.9" width="5.0" height="30.8" fill="#26a69a"/>
<rect x="169.90" y="399.0" width="1.2" height="54.8" fill="#ef5350"/>
<rect x="168.0" y="442.3" width="5.0" height="3.4" fill="#ef5350"/>
<rect x="175.90" y="416.9" width="1.2" height="81.1" fill="#ef5350"/>
<rect x="174.0" y="445.2" width="5.0" height="28.4" fill="#ef5350"/>
<rect x="181.90" y="439.0" width="1.2" height="75.9" fill="#ef5350"/>
<rect x="180.0" y="469.2" width="5.0" height="13.4" fill="#ef5350"/>
<rect x="187.90" y="440.0" width="1.2" height="38.8" fill="#ef5350"/>
<rect x="186.0" y="466.3" width="5.0" height="5.4" fill="#ef5350"/>
<rect x="193.90" y="417.9" width="1.2" height="48.8" fill="#26a69a"/>
<rect x="192.0" y="446.1" width="5.0" height="20.6" fill="#26a69a"/>
<rect x="199.90" y="421.1" width="1.2" height="40.0" fill="#ef5350"/>
<rect x="198.0" y="421.1" width="5.0" height="15.4" fill="#ef5350"/>
<rect x="205.90" y="345.1" width="1.2" height="76.7" fill="#26a69a"/>
<rect x="204.0" y="372.0" width="5.0" height="49.8" fill="#26a69a"/>
<rect x="212.90" y="353.0" width="1.2" height="52.9" fill="#ef5350"/>
<rect x="211.0" y="382.0" width="5.0" height="9.0" fill="#ef5350"/>
<rect x="218.90" y="317.0" width="1.2" height="62.9" fill="#26a69a"/>
<rect x="217.0" y="325.9" width="5.0" height="54.0" fill="#26a69a"/>
<rect x="224.90" y="320.0" width="1.2" height="58.8" fill="#26a69a"/>
<rect x="223.0" y="341.1" width="5.0" height="9.6" fill="#26a69a"/>
<rect x="230.90" y="357.0" width="1.2" height="57.0" fill="#ef5350"/>
<rect x="229.0" y="357.0" width="5.0" height="37.9" fill="#ef5350"/>
<rect x="236.90" y="356.1" width="1.2" height="37.9" fill="#26a69a"/>
<rect x="235.0" y="373.0" width="5.0" height="21.0" fill="#26a69a"/>
<rect x="242.90" y="313.0" width="1.2" height="47.0" fill="#26a69a"/>
<rect x="241.0" y="342.1" width="5.0" height="15.9" fill="#26a69a"/>
<rect x="248.90" y="274.0" width="1.2" height="59.0" fill="#ef5350"/>
<rect x="247.0" y="306.7" width="5.0" height="11.0" fill="#ef5350"/>
<rect x="254.90" y="309.0" width="1.2" height="75.9" fill="#ef5350"/>
<rect x="253.0" y="333.0" width="5.0" height="27.9" fill="#ef5350"/>
<rect x="261.90" y="373.0" width="1.2" height="57.9" fill="#ef5350"/>
<rect x="260.0" y="375.9" width="5.0" height="53.1" fill="#ef5350"/>
<rect x="267.90" y="427.0" width="1.2" height="47.0" fill="#ef5350"/>
<rect x="266.0" y="435.9" width="5.0" height="4.8" fill="#ef5350"/>
<rect x="273.90" y="415.0" width="1.2" height="33.0" fill="#26a69a"/>
<rect x="272.0" y="422.1" width="5.0" height="11.6" fill="#26a69a"/>
<rect x="279.90" y="422.1" width="1.2" height="60.0" fill="#ef5350"/>
<rect x="278.0" y="427.0" width="5.0" height="6.7" fill="#ef5350"/>
<rect x="285.90" y="457.1" width="1.2" height="51.9" fill="#ef5350"/>
<rect x="284.0" y="474.0" width="5.0" height="25.0" fill="#ef5350"/>
<rect x="291.90" y="544.2" width="1.2" height="85.5" fill="#ef5350"/>
<rect x="290.0" y="546.0" width="5.0" height="40.7" fill="#ef5350"/>
<rect x="297.90" y="553.1" width="1.2" height="99.7" fill="#26a69a"/>
<rect x="296.0" y="568.1" width="5.0" height="61.6" fill="#26a69a"/>
<rect x="303.90" y="491.1" width="1.2" height="131.7" fill="#ef5350"/>
<rect x="302.0" y="519.2" width="5.0" height="103.6" fill="#ef5350"/>
<rect x="310.90" y="526.3" width="1.2" height="126.5" fill="#26a69a"/>
<rect x="309.0" y="547.1" width="5.0" height="88.6" fill="#26a69a"/>
<rect x="316.90" y="557.1" width="1.2" height="49.8" fill="#ef5350"/>
<rect x="315.0" y="559.1" width="5.0" height="40.6" fill="#ef5350"/>
<rect x="322.90" y="488.0" width="1.2" height="66.6" fill="#26a69a"/>
<rect x="321.0" y="494.2" width="5.0" height="49.5" fill="#26a69a"/>
<rect x="328.90" y="418.9" width="1.2" height="59.9" fill="#ef5350"/>
<rect x="327.0" y="436.9" width="5.0" height="25.0" fill="#ef5350"/>
<rect x="334.90" y="450.9" width="1.2" height="43.9" fill="#ef5350"/>
<rect x="333.0" y="461.1" width="5.0" height="33.7" fill="#ef5350"/>
<rect x="340.90" y="451.9" width="1.2" height="50.0" fill="#26a69a"/>
<rect x="339.0" y="485.1" width="5.0" height="4.7" fill="#26a69a"/>
<rect x="346.90" y="418.9" width="1.2" height="75.9" fill="#26a69a"/>
<rect x="345.0" y="441.9" width="5.0" height="42.1" fill="#26a69a"/>
<rect x="352.90" y="455.2" width="1.2" height="47.6" fill="#ef5350"/>
<rect x="351.0" y="458.0" width="5.0" height="40.0" fill="#ef5350"/>
<rect x="359.90" y="461.1" width="1.2" height="42.7" fill="#26a69a"/>
<rect x="358.0" y="471.1" width="5.0" height="26.9" fill="#26a69a"/>
<rect x="365.90" y="417.0" width="1.2" height="79.7" fill="#ef5350"/>
<rect x="364.0" y="435.9" width="5.0" height="53.9" fill="#ef5350"/>
<rect x="371.90" y="470.2" width="1.2" height="50.5" fill="#26a69a"/>
<rect x="370.0" y="482.1" width="5.0" height="6.7" fill="#26a69a"/>
<rect x="377.90" y="417.9" width="1.2" height="91.1" fill="#26a69a"/>
<rect x="376.0" y="431.1" width="5.0" height="52.9" fill="#26a69a"/>
<rect x="383.90" y="400.3" width="1.2" height="42.4" fill="#ef5350"/>
<rect x="382.0" y="409.0" width="5.0" height="18.9" fill="#ef5350"/>
<rect x="389.90" y="400.3" width="1.2" height="29.6" fill="#26a69a"/>
<rect x="388.0" y="408.1" width="5.0" height="19.8" fill="#26a69a"/>
<rect x="395.90" y="347.1" width="1.2" height="58.8" fill="#26a69a"/>
<rect x="394.0" y="375.9" width="5.0" height="27.9" fill="#26a69a"/>
<rect x="401.90" y="353.0" width="1.2" height="57.7" fill="#ef5350"/>
<rect x="400.0" y="373.0" width="5.0" height="15.9" fill="#ef5350"/>
<rect x="408.90" y="325.9" width="1.2" height="52.9" fill="#ef5350"/>
<rect x="407.0" y="325.9" width="5.0" height="16.6" fill="#ef5350"/>
<rect x="414.90" y="315.9" width="1.2" height="53.9" fill="#ef5350"/>
<rect x="413.0" y="338.0" width="5.0" height="31.8" fill="#ef5350"/>
<rect x="420.90" y="340.9" width="1.2" height="74.0" fill="#ef5350"/>
<rect x="419.0" y="363.0" width="5.0" height="34.6" fill="#ef5350"/>
<rect x="426.90" y="384.9" width="1.2" height="27.0" fill="#ef5350"/>
<rect x="425.0" y="409.2" width="5.0" height="2.7" fill="#ef5350"/>
<rect x="432.90" y="414.9" width="1.2" height="42.9" fill="#ef5350"/>
<rect x="431.0" y="414.9" width="5.0" height="10.0" fill="#ef5350"/>
<rect x="438.90" y="418.0" width="1.2" height="47.8" fill="#ef5350"/>
<rect x="437.0" y="418.0" width="5.0" height="45.9" fill="#ef5350"/>
<rect x="444.90" y="395.9" width="1.2" height="35.0" fill="#ef5350"/>
<rect x="443.0" y="406.1" width="5.0" height="6.7" fill="#ef5350"/>
<rect x="450.90" y="382.1" width="1.2" height="56.8" fill="#26a69a"/>
<rect x="449.0" y="403.0" width="5.0" height="16.9" fill="#26a69a"/>
<rect x="457.90" y="365.9" width="1.2" height="33.1" fill="#26a69a"/>
<rect x="456.0" y="393.0" width="5.0" height="5.0" fill="#26a69a"/>
<rect x="463.90" y="372.1" width="1.2" height="49.9" fill="#26a69a"/>
<rect x="462.0" y="388.0" width="5.0" height="21.0" fill="#26a69a"/>
<rect x="469.90" y="347.9" width="1.2" height="57.0" fill="#26a69a"/>
<rect x="468.0" y="375.9" width="5.0" height="7.1" fill="#26a69a"/>
<rect x="475.90" y="363.0" width="1.2" height="36.9" fill="#26a69a"/>
<rect x="474.0" y="375.0" width="5.0" height="16.9" fill="#26a69a"/>
<rect x="481.90" y="362.1" width="1.2" height="55.9" fill="#ef5350"/>
<rect x="480.0" y="362.1" width="5.0" height="52.8" fill="#ef5350"/>
<rect x="487.90" y="388.0" width="1.2" height="74.8" fill="#ef5350"/>
<rect x="486.0" y="414.9" width="5.0" height="46.7" fill="#ef5350"/>
<rect x="493.90" y="439.0" width="1.2" height="59.8" fill="#ef5350"/>
<rect x="492.0" y="445.0" width="5.0" height="50.9" fill="#ef5350"/>
<rect x="499.90" y="466.0" width="1.2" height="38.0" fill="#26a69a"/>
<rect x="498.0" y="474.2" width="5.0" height="21.7" fill="#26a69a"/>
<rect x="506.90" y="430.0" width="1.2" height="43.8" fill="#ef5350"/>
<rect x="505.0" y="448.0" width="5.0" height="2.0" fill="#ef5350"/>
<rect x="512.90" y="427.0" width="1.2" height="39.8" fill="#ef5350"/>
<rect x="511.0" y="427.0" width="5.0" height="39.8" fill="#ef5350"/>
<rect x="518.90" y="402.0" width="1.2" height="64.8" fill="#26a69a"/>
<rect x="517.0" y="425.0" width="5.0" height="41.8" fill="#26a69a"/>
<rect x="524.90" y="393.0" width="1.2" height="87.0" fill="#ef5350"/>
<rect x="523.0" y="393.0" width="5.0" height="84.7" fill="#ef5350"/>
<rect x="530.90" y="437.0" width="1.2" height="55.1" fill="#ef5350"/>
<rect x="529.0" y="446.0" width="5.0" height="39.9" fill="#ef5350"/>
<rect x="536.90" y="382.1" width="1.2" height="121.9" fill="#26a69a"/>
<rect x="535.0" y="393.0" width="5.0" height="93.9" fill="#26a69a"/>
<rect x="542.90" y="397.1" width="1.2" height="47.9" fill="#ef5350"/>
<rect x="541.0" y="397.1" width="5.0" height="33.9" fill="#ef5350"/>
<rect x="548.90" y="382.1" width="1.2" height="35.9" fill="#26a69a"/>
<rect x="547.0" y="389.9" width="5.0" height="28.1" fill="#26a69a"/>
<rect x="554.90" y="350.9" width="1.2" height="48.1" fill="#26a69a"/>
<rect x="553.0" y="369.0" width="5.0" height="21.9" fill="#26a69a"/>
<rect x="561.90" y="335.9" width="1.2" height="40.0" fill="#26a69a"/>
<rect x="560.0" y="341.9" width="5.0" height="15.0" fill="#26a69a"/>
<rect x="567.90" y="303.8" width="1.2" height="81.1" fill="#ef5350"/>
<rect x="566.0" y="303.8" width="5.0" height="22.7" fill="#ef5350"/>
<rect x="573.90" y="310.9" width="1.2" height="67.1" fill="#ef5350"/>
<rect x="572.0" y="325.9" width="5.0" height="39.1" fill="#ef5350"/>
<rect x="579.90" y="359.0" width="1.2" height="25.9" fill="#26a69a"/>
<rect x="578.0" y="365.9" width="5.0" height="17.1" fill="#26a69a"/>
<rect x="585.90" y="359.0" width="1.2" height="30.9" fill="#ef5350"/>
<rect x="584.0" y="365.9" width="5.0" height="5.0" fill="#ef5350"/>
<rect x="591.90" y="353.0" width="1.2" height="46.0" fill="#ef5350"/>
<rect x="590.0" y="375.0" width="5.0" height="13.0" fill="#ef5350"/>
<rect x="597.90" y="344.0" width="1.2" height="49.0" fill="#26a69a"/>
<rect x="596.0" y="346.9" width="5.0" height="17.1" fill="#26a69a"/>
<rect x="603.90" y="340.9" width="1.2" height="55.0" fill="#ef5350"/>
<rect x="602.0" y="344.0" width="5.0" height="41.9" fill="#ef5350"/>
<rect x="610.90" y="355.9" width="1.2" height="27.1" fill="#ef5350"/>
<rect x="609.0" y="375.9" width="5.0" height="4.0" fill="#ef5350"/>
<rect x="616.90" y="360.0" width="1.2" height="39.0" fill="#ef5350"/>
<rect x="615.0" y="387.1" width="5.0" height="10.9" fill="#ef5350"/>
<rect x="622.90" y="393.0" width="1.2" height="14.0" fill="#26a69a"/>
<rect x="621.0" y="405.0" width="5.0" height="2.0" fill="#26a69a"/>
<rect x="628.90" y="399.0" width="1.2" height="30.9" fill="#ef5350"/>
<rect x="627.0" y="408.0" width="5.0" height="7.9" fill="#ef5350"/>
<rect x="634.90" y="399.9" width="1.2" height="27.1" fill="#26a69a"/>
<rect x="633.0" y="414.6" width="5.0" height="1.2" fill="#26a69a"/>
<rect x="640.90" y="399.9" width="1.2" height="28.1" fill="#ef5350"/>
<rect x="639.0" y="399.9" width="5.0" height="22.1" fill="#ef5350"/>
<rect x="646.90" y="414.9" width="1.2" height="37.1" fill="#ef5350"/>
<rect x="645.0" y="422.0" width="5.0" height="27.9" fill="#ef5350"/>
<rect x="652.90" y="420.9" width="1.2" height="31.1" fill="#ef5350"/>
<rect x="651.0" y="443.0" width="5.0" height="5.9" fill="#ef5350"/>
<rect x="659.90" y="384.9" width="1.2" height="52.1" fill="#26a69a"/>
<rect x="658.0" y="388.0" width="5.0" height="49.0" fill="#26a69a"/>
<rect x="665.90" y="347.9" width="1.2" height="41.1" fill="#26a69a"/>
<rect x="664.0" y="362.1" width="5.0" height="26.9" fill="#26a69a"/>
<rect x="671.90" y="301.0" width="1.2" height="72.0" fill="#26a69a"/>
<rect x="670.0" y="335.0" width="5.0" height="30.0" fill="#26a69a"/>
<rect x="677.90" y="333.0" width="1.2" height="42.9" fill="#ef5350"/>
<rect x="676.0" y="335.0" width="5.0" height="38.0" fill="#ef5350"/>
<rect x="683.90" y="375.0" width="1.2" height="54.9" fill="#ef5350"/>
<rect x="682.0" y="378.0" width="5.0" height="36.9" fill="#ef5350"/>
<rect x="689.90" y="363.0" width="1.2" height="51.0" fill="#26a69a"/>
<rect x="688.0" y="373.0" width="5.0" height="27.9" fill="#26a69a"/>
<rect x="695.90" y="350.9" width="1.2" height="28.1" fill="#26a69a"/>
<rect x="694.0" y="359.0" width="5.0" height="20.0" fill="#26a69a"/>
<rect x="701.90" y="363.0" width="1.2" height="30.0" fill="#ef5350"/>
<rect x="700.0" y="375.9" width="5.0" height="15.0" fill="#ef5350"/>
<rect x="708.90" y="379.0" width="1.2" height="43.0" fill="#ef5350"/>
<rect x="707.0" y="390.9" width="5.0" height="31.1" fill="#ef5350"/>
<rect x="714.90" y="403.0" width="1.2" height="13.9" fill="#ef5350"/>
<rect x="713.0" y="404.9" width="5.0" height="11.0" fill="#ef5350"/>
<rect x="720.90" y="393.0" width="1.2" height="29.0" fill="#26a69a"/>
<rect x="719.0" y="397.1" width="5.0" height="21.8" fill="#26a69a"/>
<rect x="726.90" y="379.0" width="1.2" height="45.9" fill="#ef5350"/>
<rect x="725.0" y="379.0" width="5.0" height="44.0" fill="#ef5350"/>
<rect x="732.90" y="419.0" width="1.2" height="24.0" fill="#ef5350"/>
<rect x="731.0" y="428.0" width="5.0" height="10.0" fill="#ef5350"/>
<rect x="738.90" y="419.0" width="1.2" height="21.9" fill="#26a69a"/>
<rect x="737.0" y="429.9" width="5.0" height="11.0" fill="#26a69a"/>
<rect x="744.90" y="399.9" width="1.2" height="26.0" fill="#26a69a"/>
<rect x="743.0" y="409.0" width="5.0" height="12.9" fill="#26a69a"/>
<rect x="750.90" y="397.1" width="1.2" height="19.8" fill="#26a69a"/>
<rect x="749.0" y="403.4" width="5.0" height="2.5" fill="#26a69a"/>
<rect x="757.90" y="399.0" width="1.2" height="25.9" fill="#26a69a"/>
<rect x="756.0" y="402.1" width="5.0" height="10.9" fill="#26a69a"/>
<rect x="763.90" y="384.0" width="1.2" height="35.0" fill="#ef5350"/>
<rect x="762.0" y="396.1" width="5.0" height="10.8" fill="#ef5350"/>
<rect x="769.90" y="402.1" width="1.2" height="26.9" fill="#ef5350"/>
<rect x="768.0" y="402.1" width="5.0" height="19.8" fill="#ef5350"/>
<rect x="775.90" y="414.9" width="1.2" height="42.9" fill="#ef5350"/>
<rect x="774.0" y="426.9" width="5.0" height="25.8" fill="#ef5350"/>
<rect x="781.90" y="448.9" width="1.2" height="31.9" fill="#ef5350"/>
<rect x="780.0" y="473.9" width="5.0" height="6.9" fill="#ef5350"/>
<rect x="787.90" y="448.9" width="1.2" height="29.9" fill="#26a69a"/>
<rect x="786.0" y="454.9" width="5.0" height="6.0" fill="#26a69a"/>
<rect x="793.90" y="410.9" width="1.2" height="55.9" fill="#26a69a"/>
<rect x="792.0" y="424.9" width="5.0" height="41.9" fill="#26a69a"/>
<rect x="799.90" y="370.0" width="1.2" height="51.9" fill="#26a69a"/>
<rect x="798.0" y="385.0" width="5.0" height="36.9" fill="#26a69a"/>
<rect x="806.90" y="363.0" width="1.2" height="25.0" fill="#ef5350"/>
<rect x="805.0" y="370.0" width="5.0" height="10.0" fill="#ef5350"/>
<rect x="812.90" y="373.0" width="1.2" height="24.1" fill="#ef5350"/>
<rect x="811.0" y="380.9" width="5.0" height="13.1" fill="#ef5350"/>
<rect x="818.90" y="378.0" width="1.2" height="65.0" fill="#ef5350"/>
<rect x="817.0" y="393.0" width="5.0" height="50.0" fill="#ef5350"/>
<rect x="824.90" y="442.0" width="1.2" height="53.6" fill="#ef5350"/>
<rect x="823.0" y="452.0" width="5.0" height="36.5" fill="#ef5350"/>
<rect x="830.90" y="457.0" width="1.2" height="30.5" fill="#26a69a"/>
<rect x="829.0" y="476.9" width="5.0" height="6.5" fill="#26a69a"/>
<rect x="836.90" y="451.0" width="1.2" height="40.5" fill="#26a69a"/>
<rect x="835.0" y="484.9" width="5.0" height="1.2" fill="#26a69a"/>
<rect x="842.90" y="486.1" width="1.2" height="77.4" fill="#ef5350"/>
<rect x="841.0" y="486.1" width="5.0" height="72.7" fill="#ef5350"/>
<rect x="848.90" y="515.8" width="1.2" height="33.9" fill="#26a69a"/>
<rect x="847.0" y="532.1" width="5.0" height="17.6" fill="#26a69a"/>
<rect x="855.90" y="496.2" width="1.2" height="50.4" fill="#26a69a"/>
<rect x="854.0" y="503.1" width="5.0" height="31.4" fill="#26a69a"/>
<rect x="861.90" y="480.8" width="1.2" height="75.0" fill="#ef5350"/>
<rect x="860.0" y="483.0" width="5.0" height="72.8" fill="#ef5350"/>
<rect x="867.90" y="491.1" width="1.2" height="124.6" fill="#ef5350"/>
<rect x="866.0" y="540.2" width="5.0" height="55.5" fill="#ef5350"/>
<rect x="873.90" y="497.0" width="1.2" height="136.8" fill="#ef5350"/>
<rect x="872.0" y="547.2" width="5.0" height="9.4" fill="#ef5350"/>
<rect x="879.90" y="465.9" width="1.2" height="71.8" fill="#ef5350"/>
<rect x="878.0" y="506.1" width="5.0" height="31.6" fill="#ef5350"/>
<rect x="885.90" y="502.1" width="1.2" height="35.6" fill="#26a69a"/>
<rect x="884.0" y="504.1" width="5.0" height="22.5" fill="#26a69a"/>
<rect x="891.90" y="491.9" width="1.2" height="42.8" fill="#26a69a"/>
<rect x="890.0" y="521.1" width="5.0" height="7.5" fill="#26a69a"/>
<rect x="897.90" y="534.1" width="1.2" height="87.7" fill="#ef5350"/>
<rect x="896.0" y="546.2" width="5.0" height="68.5" fill="#ef5350"/>
<rect x="904.90" y="529.0" width="1.2" height="72.7" fill="#26a69a"/>
<rect x="903.0" y="549.3" width="5.0" height="22.5" fill="#26a69a"/>
<rect x="910.90" y="485.0" width="1.2" height="64.7" fill="#ef5350"/>
<rect x="909.0" y="506.1" width="5.0" height="4.7" fill="#ef5350"/>
<rect x="916.90" y="505.1" width="1.2" height="32.6" fill="#26a69a"/>
<rect x="915.0" y="515.0" width="5.0" height="13.6" fill="#26a69a"/>
<rect x="922.90" y="465.9" width="1.2" height="30.1" fill="#26a69a"/>
<rect x="921.0" y="472.9" width="5.0" height="16.6" fill="#26a69a"/>
<rect x="928.90" y="421.9" width="1.2" height="25.1" fill="#ef5350"/>
<rect x="927.0" y="430.9" width="5.0" height="16.1" fill="#ef5350"/>
<rect x="934.90" y="434.0" width="1.2" height="32.0" fill="#26a69a"/>
<rect x="933.0" y="435.9" width="5.0" height="16.9" fill="#26a69a"/>
<rect x="940.90" y="370.0" width="1.2" height="32.1" fill="#26a69a"/>
<rect x="939.0" y="378.0" width="5.0" height="11.0" fill="#26a69a"/>
<rect x="946.90" y="315.0" width="1.2" height="37.9" fill="#26a69a"/>
<rect x="945.0" y="323.1" width="5.0" height="19.6" fill="#26a69a"/>
<rect x="953.90" y="339.0" width="1.2" height="54.0" fill="#ef5350"/>
<rect x="952.0" y="352.9" width="5.0" height="29.2" fill="#ef5350"/>
<rect x="959.90" y="376.1" width="1.2" height="29.8" fill="#26a69a"/>
<rect x="958.0" y="396.1" width="5.0" height="6.9" fill="#26a69a"/>
<rect x="965.90" y="333.1" width="1.2" height="29.9" fill="#ef5350"/>
<rect x="964.0" y="350.0" width="5.0" height="5.0" fill="#ef5350"/>
<rect x="971.90" y="308.1" width="1.2" height="45.9" fill="#ef5350"/>
<rect x="970.0" y="345.0" width="5.0" height="9.0" fill="#ef5350"/>
<rect x="977.90" y="349.0" width="1.2" height="51.9" fill="#ef5350"/>
<rect x="976.0" y="352.9" width="5.0" height="39.2" fill="#ef5350"/>
<rect x="983.90" y="378.0" width="1.2" height="24.1" fill="#26a69a"/>
<rect x="982.0" y="385.0" width="5.0" height="9.9" fill="#26a69a"/>
<rect x="989.90" y="359.0" width="1.2" height="23.1" fill="#ef5350"/>
<rect x="988.0" y="364.0" width="5.0" height="13.1" fill="#ef5350"/>
<rect x="995.90" y="403.0" width="1.2" height="31.0" fill="#ef5350"/>
<rect x="994.0" y="403.0" width="5.0" height="20.0" fill="#ef5350"/>
<rect x="1001.90" y="402.0" width="1.2" height="36.9" fill="#26a69a"/>
<rect x="1000.0" y="412.0" width="5.0" height="19.9" fill="#26a69a"/>
<rect x="1008.90" y="269.3" width="1.2" height="132.7" fill="#26a69a"/>
<rect x="1007.0" y="274.2" width="5.0" height="126.7" fill="#26a69a"/>
<rect x="1014.90" y="249.1" width="1.2" height="49.6" fill="#26a69a"/>
<rect x="1013.0" y="296.1" width="5.0" height="2.6" fill="#26a69a"/>
<rect x="1020.90" y="320.0" width="1.2" height="45.0" fill="#ef5350"/>
<rect x="1019.0" y="326.9" width="5.0" height="31.0" fill="#ef5350"/>
<rect x="1026.90" y="289.2" width="1.2" height="33.9" fill="#ef5350"/>
<rect x="1025.0" y="305.1" width="5.0" height="9.9" fill="#ef5350"/>
<rect x="1032.90" y="320.9" width="1.2" height="55.1" fill="#ef5350"/>
<rect x="1031.0" y="320.9" width="5.0" height="43.1" fill="#ef5350"/>
<rect x="1038.90" y="382.1" width="1.2" height="20.9" fill="#ef5350"/>
<rect x="1037.0" y="389.9" width="5.0" height="5.0" fill="#ef5350"/>
<rect x="1044.90" y="384.0" width="1.2" height="26.9" fill="#26a69a"/>
<rect x="1043.0" y="401.8" width="5.0" height="1.2" fill="#26a69a"/>
<rect x="1050.90" y="399.0" width="1.2" height="47.0" fill="#ef5350"/>
<rect x="1049.0" y="399.9" width="5.0" height="30.9" fill="#ef5350"/>
<rect x="1057.90" y="389.9" width="1.2" height="41.0" fill="#26a69a"/>
<rect x="1056.0" y="393.0" width="5.0" height="32.9" fill="#26a69a"/>
<rect x="1063.90" y="387.1" width="1.2" height="20.9" fill="#26a69a"/>
<rect x="1062.0" y="389.9" width="5.0" height="11.0" fill="#26a69a"/>
<rect x="1069.90" y="409.0" width="1.2" height="36.0" fill="#ef5350"/>
<rect x="1068.0" y="409.0" width="5.0" height="28.0" fill="#ef5350"/>
<rect x="1075.90" y="437.0" width="1.2" height="33.9" fill="#ef5350"/>
<rect x="1074.0" y="442.1" width="5.0" height="9.7" fill="#ef5350"/>
<rect x="1081.90" y="422.0" width="1.2" height="29.8" fill="#26a69a"/>
<rect x="1080.0" y="440.1" width="5.0" height="11.7" fill="#26a69a"/>
<rect x="1087.90" y="394.0" width="1.2" height="60.9" fill="#26a69a"/>
<rect x="1086.0" y="422.0" width="5.0" height="19.0" fill="#26a69a"/>
<rect x="1093.90" y="316.9" width="1.2" height="72.1" fill="#26a69a"/>
<rect x="1092.0" y="380.9" width="5.0" height="8.1" fill="#26a69a"/>
<rect x="1099.90" y="405.9" width="1.2" height="54.1" fill="#26a69a"/>
<rect x="1098.0" y="414.9" width="5.0" height="23.0" fill="#26a69a"/>
<rect x="1106.90" y="380.9" width="1.2" height="31.0" fill="#26a69a"/>
<rect x="1105.0" y="388.0" width="5.0" height="23.9" fill="#26a69a"/>
<rect x="1112.90" y="333.0" width="1.2" height="47.9" fill="#26a69a"/>
<rect x="1111.0" y="359.0" width="5.0" height="20.9" fill="#26a69a"/>
<rect x="1118.90" y="355.9" width="1.2" height="35.0" fill="#26a69a"/>
<rect x="1117.0" y="359.0" width="5.0" height="20.0" fill="#26a69a"/>
<rect x="1124.90" y="339.0" width="1.2" height="29.0" fill="#26a69a"/>
<rect x="1123.0" y="350.0" width="5.0" height="13.0" fill="#26a69a"/>
<rect x="1130.90" y="360.0" width="1.2" height="50.9" fill="#ef5350"/>
<rect x="1129.0" y="360.0" width="5.0" height="45.9" fill="#ef5350"/>
<rect x="1136.90" y="375.9" width="1.2" height="48.1" fill="#26a69a"/>
<rect x="1135.0" y="378.0" width="5.0" height="41.0" fill="#26a69a"/>
<rect x="1142.90" y="345.9" width="1.2" height="33.1" fill="#26a69a"/>
<rect x="1141.0" y="356.9" width="5.0" height="4.0" fill="#26a69a"/>
<rect x="1148.90" y="360.0" width="1.2" height="44.9" fill="#ef5350"/>
<rect x="1147.0" y="363.0" width="5.0" height="41.0" fill="#ef5350"/>
<rect x="1155.90" y="404.9" width="1.2" height="28.1" fill="#ef5350"/>
<rect x="1154.0" y="416.9" width="5.0" height="11.1" fill="#ef5350"/>
<rect x="1161.90" y="424.0" width="1.2" height="23.0" fill="#26a69a"/>
<rect x="1160.0" y="435.9" width="5.0" height="1.2" fill="#26a69a"/>
<rect x="1167.90" y="380.9" width="1.2" height="41.1" fill="#26a69a"/>
<rect x="1166.0" y="394.0" width="5.0" height="24.0" fill="#26a69a"/>
<rect x="1173.90" y="380.9" width="1.2" height="30.0" fill="#26a69a"/>
<rect x="1172.0" y="394.0" width="5.0" height="10.0" fill="#26a69a"/>
<rect x="1179.90" y="345.0" width="1.2" height="59.9" fill="#26a69a"/>
<rect x="1178.0" y="347.9" width="5.0" height="43.0" fill="#26a69a"/>
<rect x="1185.90" y="370.0" width="1.2" height="34.9" fill="#ef5350"/>
<rect x="1184.0" y="373.0" width="5.0" height="23.9" fill="#ef5350"/>
<rect x="1191.90" y="416.9" width="1.2" height="23.0" fill="#ef5350"/>
<rect x="1190.0" y="422.0" width="5.0" height="17.9" fill="#ef5350"/>
<rect x="1197.90" y="418.0" width="1.2" height="26.9" fill="#ef5350"/>
<rect x="1196.0" y="428.0" width="5.0" height="10.0" fill="#ef5350"/>
<rect x="1204.90" y="405.9" width="1.2" height="25.0" fill="#26a69a"/>
<rect x="1203.0" y="414.9" width="5.0" height="14.1" fill="#26a69a"/>
<rect x="1210.90" y="379.0" width="1.2" height="34.0" fill="#26a69a"/>
<rect x="1209.0" y="379.0" width="5.0" height="26.9" fill="#26a69a"/>
<rect x="1216.90" y="342.9" width="1.2" height="42.0" fill="#26a69a"/>
<rect x="1215.0" y="347.9" width="5.0" height="34.2" fill="#26a69a"/>
<rect x="1222.90" y="338.0" width="1.2" height="27.0" fill="#ef5350"/>
<rect x="1221.0" y="345.0" width="5.0" height="20.0" fill="#ef5350"/>
<rect x="1228.90" y="356.9" width="1.2" height="21.1" fill="#26a69a"/>
<rect x="1227.0" y="356.9" width="5.0" height="10.2" fill="#26a69a"/>
<rect x="1234.90" y="264.7" width="1.2" height="84.3" fill="#26a69a"/>
<rect x="1233.0" y="309.0" width="5.0" height="40.0" fill="#26a69a"/>
<rect x="1240.90" y="331.9" width="1.2" height="43.1" fill="#26a69a"/>
<rect x="1239.0" y="331.9" width="5.0" height="28.1" fill="#26a69a"/>
<rect x="1246.90" y="297.0" width="1.2" height="48.9" fill="#ef5350"/>
<rect x="1245.0" y="330.0" width="5.0" height="11.9" fill="#ef5350"/>
<rect x="1253.90" y="311.9" width="1.2" height="57.1" fill="#26a69a"/>
<rect x="1252.0" y="315.0" width="5.0" height="49.0" fill="#26a69a"/>
<rect x="1259.90" y="253.1" width="1.2" height="56.7" fill="#26a69a"/>
<rect x="1258.0" y="274.2" width="5.0" height="33.5" fill="#26a69a"/>
<rect x="1265.90" y="231.3" width="1.2" height="67.4" fill="#ef5350"/>
<rect x="1264.0" y="259.2" width="5.0" height="39.5" fill="#ef5350"/>
<rect x="1271.90" y="280.3" width="1.2" height="47.8" fill="#26a69a"/>
<rect x="1270.0" y="296.1" width="5.0" height="13.7" fill="#26a69a"/>
<rect x="1277.90" y="280.8" width="1.2" height="42.3" fill="#26a69a"/>
<rect x="1276.0" y="280.8" width="5.0" height="1.2" fill="#26a69a"/>
<rect x="1283.90" y="262.0" width="1.2" height="45.8" fill="#26a69a"/>
<rect x="1282.0" y="280.9" width="5.0" height="20.9" fill="#26a69a"/>
<rect x="1289.90" y="234.3" width="1.2" height="50.6" fill="#ef5350"/>
<rect x="1288.0" y="280.3" width="5.0" height="4.6" fill="#ef5350"/>
<rect x="1295.90" y="147.2" width="1.2" height="75.5" fill="#26a69a"/>
<rect x="1294.0" y="164.0" width="5.0" height="58.7" fill="#26a69a"/>
</g>
<g stroke="#e0e3eb" stroke-width="1.25">
<line x1="14" x2="1703" y1="708.5" y2="708.5"/>
<line x1="14" x2="1703" y1="828.5" y2="828.5"/>
<line x1="1624.5" x2="1624.5" y1="35" y2="862"/>
</g>
<rect x="13" y="34" width="1691" height="829" fill="none" stroke="#f3f3f3" stroke-width="2"/>
<text x="1634.3" y="86.2" font-size="15.0" fill="#131722" font-weight="normal" text-anchor="start" textLength="37.6" lengthAdjust="spacingAndGlyphs" stroke="#131722" stroke-width="0.3">11.50</text>
<text x="1634.3" y="160.5" font-size="15.0" fill="#131722" font-weight="normal" text-anchor="start" textLength="37.6" lengthAdjust="spacingAndGlyphs" stroke="#131722" stroke-width="0.3">11.00</text>
<text x="1634.3" y="234.5" font-size="15.0" fill="#131722" font-weight="normal" text-anchor="start" textLength="37.6" lengthAdjust="spacingAndGlyphs" stroke="#131722" stroke-width="0.3">10.50</text>
<text x="1634.3" y="309.5" font-size="15.0" fill="#131722" font-weight="normal" text-anchor="start" textLength="37.6" lengthAdjust="spacingAndGlyphs" stroke="#131722" stroke-width="0.3">10.00</text>
<text x="1634.3" y="383.5" font-size="15.0" fill="#131722" font-weight="normal" text-anchor="start" textLength="29.6" lengthAdjust="spacingAndGlyphs" stroke="#131722" stroke-width="0.3">9.50</text>
<text x="1634.3" y="457.5" font-size="15.0" fill="#131722" font-weight="normal" text-anchor="start" textLength="29.6" lengthAdjust="spacingAndGlyphs" stroke="#131722" stroke-width="0.3">9.00</text>
<text x="1634.3" y="531.5" font-size="15.0" fill="#131722" font-weight="normal" text-anchor="start" textLength="29.6" lengthAdjust="spacingAndGlyphs" stroke="#131722" stroke-width="0.3">8.50</text>
<text x="1634.3" y="606.5" font-size="15.0" fill="#131722" font-weight="normal" text-anchor="start" textLength="29.6" lengthAdjust="spacingAndGlyphs" stroke="#131722" stroke-width="0.3">8.00</text>
<text x="1634.3" y="680.5" font-size="15.0" fill="#131722" font-weight="normal" text-anchor="start" textLength="29.6" lengthAdjust="spacingAndGlyphs" stroke="#131722" stroke-width="0.3">7.50</text>
<text y="725.2" font-size="15.0" font-weight="normal"><tspan x="1634.3" textLength="16.0" lengthAdjust="spacingAndGlyphs" fill="#131722" stroke="#131722" stroke-width="0.3">20</tspan> <tspan x="1652.8" textLength="11.6" lengthAdjust="spacingAndGlyphs" fill="#131722" stroke="#131722" stroke-width="0.3">M</tspan></text>
<text y="778.2" font-size="15.0" font-weight="normal"><tspan x="1634.3" textLength="16.0" lengthAdjust="spacingAndGlyphs" fill="#131722" stroke="#131722" stroke-width="0.3">10</tspan> <tspan x="1652.8" textLength="11.6" lengthAdjust="spacingAndGlyphs" fill="#131722" stroke="#131722" stroke-width="0.3">M</tspan></text>
<rect x="1626" y="36" width="76" height="39.9" fill="#fff"/>
<rect x="1629.5" y="39.5" width="69" height="31" rx="5" ry="5" fill="#fff" stroke="#f0f0f0" stroke-width="1.5"/>
<text x="1639.6" y="59.6" font-size="15.0" fill="#131722" font-weight="normal" text-anchor="start" textLength="27.4" lengthAdjust="spacingAndGlyphs" stroke="#131722" stroke-width="0.3">USD</text>
<path d="M1625.1 118.1H1676.4a2.4 2.4 0 0 1 2.4 2.4V136.2a2.4 2.4 0 0 1 -2.4 2.4H1625.1z" fill="#1fd451"/>
<text x="1635.6" y="133.7" font-size="15.0" fill="#000" font-weight="normal" text-anchor="start" textLength="37.4" lengthAdjust="spacingAndGlyphs" stroke="#000" stroke-width="0.3">11.18</text>
<text x="28.9" y="850.7" font-size="15.0" fill="#131722" font-weight="normal" text-anchor="middle" textLength="25.2" lengthAdjust="spacingAndGlyphs" stroke="#131722" stroke-width="0.3">Feb</text>
<text x="144.9" y="850.7" font-size="15.0" fill="#131722" font-weight="normal" text-anchor="middle" textLength="25.7" lengthAdjust="spacingAndGlyphs" stroke="#131722" stroke-width="0.3">Mar</text>
<text x="273.9" y="850.7" font-size="15.0" fill="#131722" font-weight="normal" text-anchor="middle" textLength="24.4" lengthAdjust="spacingAndGlyphs" stroke="#131722" stroke-width="0.3">Apr</text>
<text x="401.9" y="850.7" font-size="15.0" fill="#131722" font-weight="normal" text-anchor="middle" textLength="26.6" lengthAdjust="spacingAndGlyphs" stroke="#131722" stroke-width="0.3">May</text>
<text x="530.9" y="850.7" font-size="15.0" fill="#131722" font-weight="normal" text-anchor="middle" textLength="24.0" lengthAdjust="spacingAndGlyphs" stroke="#131722" stroke-width="0.3">Jun</text>
<text x="652.9" y="850.7" font-size="15.0" fill="#131722" font-weight="normal" text-anchor="middle" textLength="20.8" lengthAdjust="spacingAndGlyphs" stroke="#131722" stroke-width="0.3">Jul</text>
<text x="787.9" y="850.7" font-size="15.0" fill="#131722" font-weight="normal" text-anchor="middle" textLength="26.0" lengthAdjust="spacingAndGlyphs" stroke="#131722" stroke-width="0.3">Aug</text>
<text x="916.9" y="850.7" font-size="15.0" fill="#131722" font-weight="normal" text-anchor="middle" textLength="24.3" lengthAdjust="spacingAndGlyphs" stroke="#131722" stroke-width="0.3">Sep</text>
<text x="1044.9" y="850.7" font-size="15.0" fill="#131722" font-weight="normal" text-anchor="middle" textLength="24.0" lengthAdjust="spacingAndGlyphs" stroke="#131722" stroke-width="0.3">Oct</text>
<text x="1185.9" y="850.7" font-size="15.0" fill="#131722" font-weight="normal" text-anchor="middle" textLength="26.5" lengthAdjust="spacingAndGlyphs" stroke="#131722" stroke-width="0.3">Nov</text>
<text x="1302.9" y="850.7" font-size="15.0" fill="#131722" font-weight="normal" text-anchor="middle" textLength="25.1" lengthAdjust="spacingAndGlyphs" stroke="#131722" stroke-width="0.3">Dec</text>
<text x="1559.9" y="850.7" font-size="15.0" fill="#131722" font-weight="normal" text-anchor="middle" textLength="25.2" lengthAdjust="spacingAndGlyphs" stroke="#131722" stroke-width="0.3">Feb</text>
<text x="1437.5" y="850.7" font-size="15.0" fill="#131722" font-weight="bold" text-anchor="middle" textLength="34.2" lengthAdjust="spacingAndGlyphs">2026</text>
<text y="58.9" font-size="15.0" font-weight="normal"><tspan x="22.6" textLength="92.0" lengthAdjust="spacingAndGlyphs" fill="#131722" stroke="#131722" stroke-width="0.3">CMB.TECH NV</tspan> <tspan x="119.6" textLength="4.8" lengthAdjust="spacingAndGlyphs" fill="#131722" stroke="#131722" stroke-width="0.3">·</tspan> <tspan x="129.0" textLength="17.2" lengthAdjust="spacingAndGlyphs" fill="#131722" stroke="#131722" stroke-width="0.3">1D</tspan> <tspan x="151.5" textLength="4.8" lengthAdjust="spacingAndGlyphs" fill="#131722" stroke="#131722" stroke-width="0.3">·</tspan> <tspan x="160.6" textLength="33.8" lengthAdjust="spacingAndGlyphs" fill="#131722" stroke="#131722" stroke-width="0.3">NYSE</tspan></text>
<text y="58.9" font-size="15.0" font-weight="normal"><tspan x="203.0" textLength="10.6" lengthAdjust="spacingAndGlyphs" fill="#131722" stroke="#131722" stroke-width="0.3">O</tspan><tspan x="215.0" textLength="35.6" lengthAdjust="spacingAndGlyphs" fill="#26a69a" stroke="#26a69a" stroke-width="0.3">10.55</tspan></text>
<text y="58.9" font-size="15.0" font-weight="normal"><tspan x="259.6" textLength="10.2" lengthAdjust="spacingAndGlyphs" fill="#131722" stroke="#131722" stroke-width="0.3">H</tspan><tspan x="270.0" textLength="35.8" lengthAdjust="spacingAndGlyphs" fill="#26a69a" stroke="#26a69a" stroke-width="0.3">11.06</tspan></text>
<text y="58.9" font-size="15.0" font-weight="normal"><tspan x="315.2" textLength="7.8" lengthAdjust="spacingAndGlyphs" fill="#131722" stroke="#131722" stroke-width="0.3">L</tspan><tspan x="323.4" textLength="36.4" lengthAdjust="spacingAndGlyphs" fill="#26a69a" stroke="#26a69a" stroke-width="0.3">10.55</tspan></text>
<text y="58.9" font-size="15.0" font-weight="normal"><tspan x="368.9" textLength="9.4" lengthAdjust="spacingAndGlyphs" fill="#131722" stroke="#131722" stroke-width="0.3">C</tspan><tspan x="378.3" textLength="36.8" lengthAdjust="spacingAndGlyphs" fill="#26a69a" stroke="#26a69a" stroke-width="0.3">10.94</tspan></text>
<text y="58.9" font-size="15.0" font-weight="normal"><tspan x="424.0" textLength="35.8" lengthAdjust="spacingAndGlyphs" fill="#26a69a" stroke="#26a69a" stroke-width="0.3">+0.81</tspan> <tspan x="465.6" textLength="56.8" lengthAdjust="spacingAndGlyphs" fill="#26a69a" stroke="#26a69a" stroke-width="0.3">(+8.00%)</tspan></text>
<text y="733.7" font-size="15.0" font-weight="normal"><tspan x="22.9" textLength="20.6" lengthAdjust="spacingAndGlyphs" fill="#131722" stroke="#131722" stroke-width="0.3">Vol</tspan> <tspan x="51.6" textLength="29.4" lengthAdjust="spacingAndGlyphs" fill="#26a69a" stroke="#26a69a" stroke-width="0.3">4.13</tspan> <tspan x="82.8" textLength="12.8" lengthAdjust="spacingAndGlyphs" fill="#26a69a" stroke="#26a69a" stroke-width="0.3">M</tspan></text>
<path d="M1373.5 162.5H1524.3L1560.6 129.7L1534.4 171.8V196.2a9 9 0 0 1 -9 9H1373.5a9 9 0 0 1 -9 -9V171.5a9 9 0 0 1 9 -9z" fill="rgba(242,242,242,0.72)" stroke="#1fd451" stroke-width="2.4" stroke-linejoin="miter" stroke-miterlimit="14"/>
<text y="188.8" font-size="16.8" font-weight="bold"><tspan x="1377.0" textLength="80.6" lengthAdjust="spacingAndGlyphs" fill="#000">Buy level:</tspan> <tspan x="1464.6" textLength="57.4" lengthAdjust="spacingAndGlyphs" fill="#000">$11.20</tspan></text>
<text y="658.6" font-size="18.2" font-weight="bold"><tspan x="576.6" textLength="85.6" lengthAdjust="spacingAndGlyphs" fill="#9000ff">Breakout</tspan> <tspan x="667.8" textLength="48.2" lengthAdjust="spacingAndGlyphs" fill="#9000ff">From</tspan> <tspan x="722.2" textLength="125.8" lengthAdjust="spacingAndGlyphs" fill="#9000ff">Consolidation</tspan> <tspan x="855.4" textLength="42.9" lengthAdjust="spacingAndGlyphs" fill="#9000ff">Area</tspan></text>
<g transform="translate(15.4 886) scale(1.05)" fill="#131313"><path d="M14 22H7V11H0V4h14v18zM28 22h-8l7.5-18h8L28 22z"/><circle cx="20" cy="8" r="4"/></g>
<text y="909.1" font-size="26.4" font-weight="bold" stroke="#131313" stroke-width="0.6"><tspan x="61.6" textLength="87.6" lengthAdjust="spacingAndGlyphs" fill="#131313">Trading</tspan><tspan x="148.6" textLength="65.0" lengthAdjust="spacingAndGlyphs" fill="#131313">View</tspan></text>
</g>
</svg></body></html>
